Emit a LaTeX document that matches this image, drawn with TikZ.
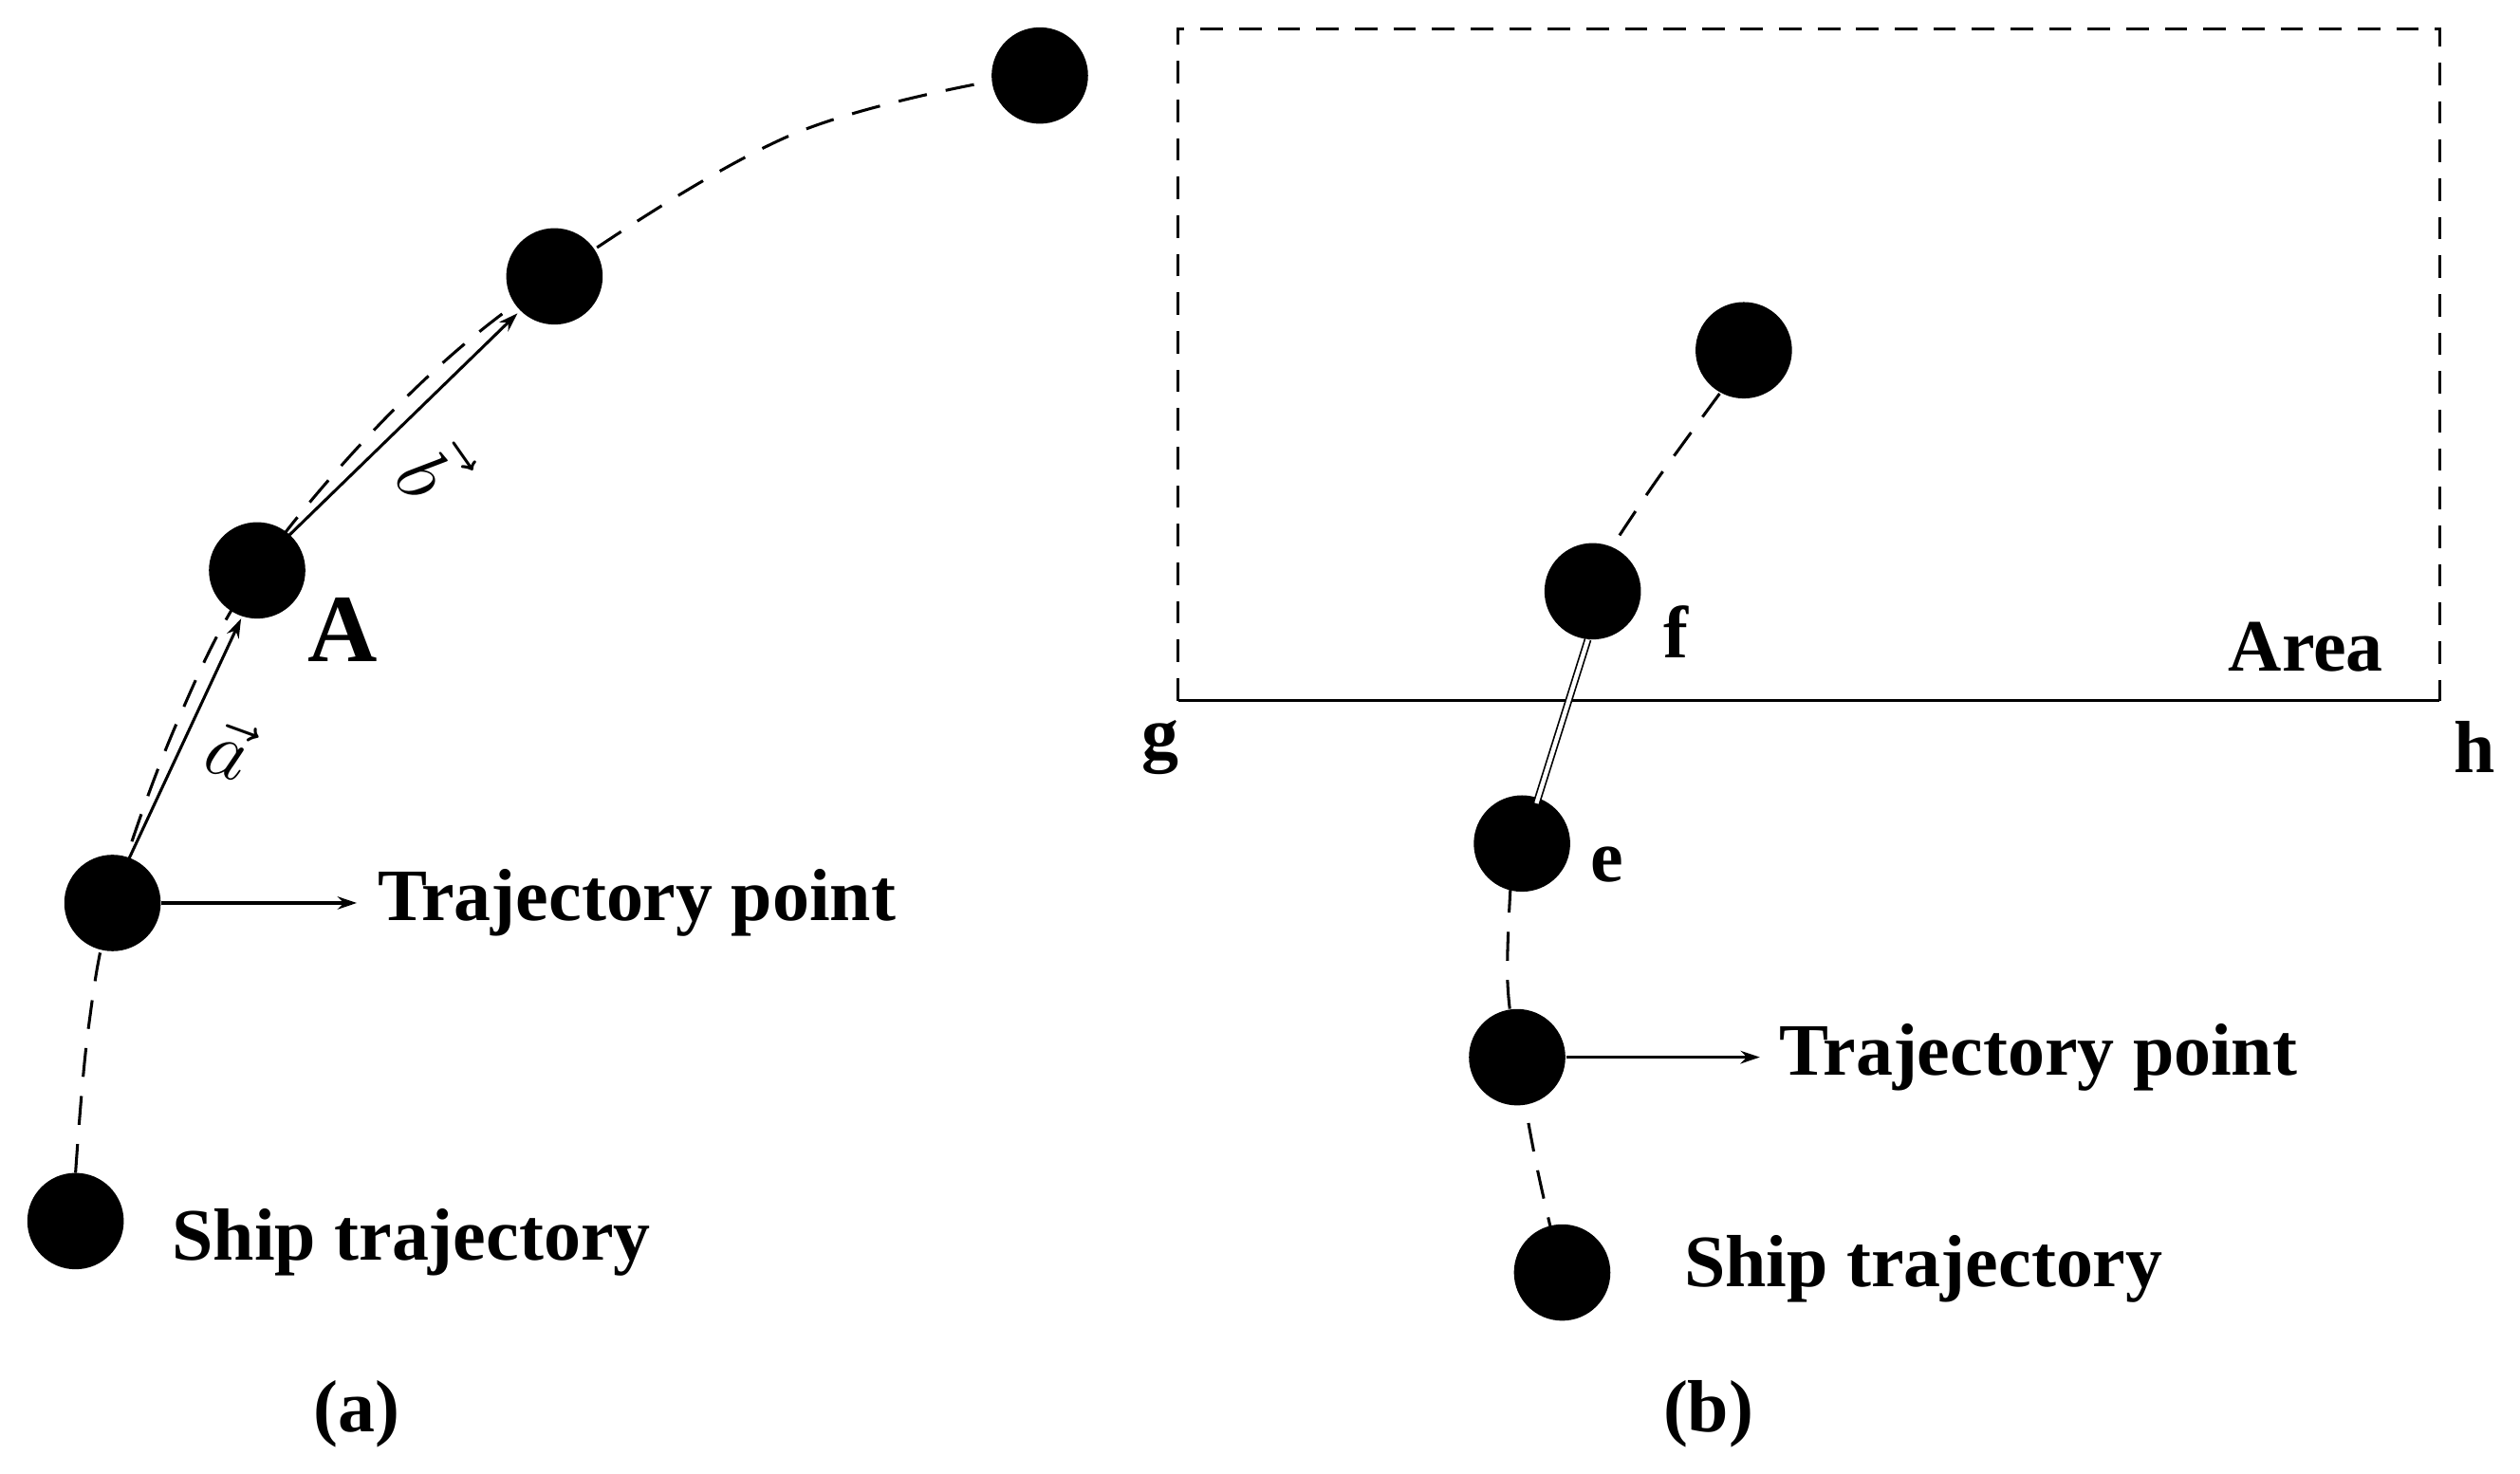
\documentclass[tikz,border=0pt]{standalone}
\usepackage{fontspec}
\setmainfont{Liberation Serif}
\usetikzlibrary{arrows.meta}
\begin{document}
\begin{tikzpicture}[x=0.5pt,y=-0.5pt,
  pt/.style={circle,fill=black,minimum size=30pt,inner sep=0pt},
  lbl/.style={font=\fontsize{23}{26}\selectfont\bfseries},
  traj/.style={dashed,dash pattern=on 9pt off 6pt,line width=0.9pt},
  arr/.style={-{Stealth[length=6pt,width=4pt]},line width=0.9pt}]
\useasboundingbox (0,0) rectangle (1568,917);
% left
\node[pt] (p1) at (47,760) {};
\node[pt] (p2) at (70,562) {};
\node[pt] (p3) at (160,355) {};
\node[pt] (p4) at (345,172) {};
\node[pt] (p5) at (647,47) {};
\draw[traj] plot[smooth,tension=0.6] coordinates {(47,730)(55,640)(70,562)(110,450)(160,355)(250,250)(345,172)(490,85)(620,50)};
\draw[arr] (80,535) -- (150,385);
\draw[arr] (178,335) -- (322,195);
\node[font=\fontsize{24}{26}\selectfont,rotate=-20] (la) at (143,466) {$\vec a$};
\node[font=\fontsize{24}{26}\selectfont,rotate=-55] (lb) at (270,292) {$\vec b$};
\node[font=\fontsize{30}{32}\selectfont\bfseries] (A) at (213,392) {A};
\node[lbl,anchor=west] (t1) at (228,562) {Trajectory point};
\draw[arr] (p2.east) -- (222,562);
\node[lbl,anchor=west] (s1) at (100,773) {Ship trajectory};
\node[lbl] (la1) at (222,880) {(a)};
% right
\draw[dashed,dash pattern=on 7pt off 5pt,line width=0.9pt] (733,436) -- (733,18) -- (1518,18) -- (1518,436);
\coordinate (g0) at (733,436); \coordinate (h0) at (1518,436);
\draw[line width=0.9pt] (g0) -- (h0);
\node[pt] (q1) at (1085,218) {};
\node[pt] (q2) at (991,368) {};
\node[pt] (q3) at (947,525) {};
\node[pt] (q4) at (944,658) {};
\node[pt] (q5) at (972,792) {};
\draw[traj] plot[smooth,tension=0.6] coordinates {(1070,245)(1030,300)(1000,345)};
\draw[traj] plot[smooth,tension=0.6] coordinates {(940,550)(938,610)(944,658)(955,720)(965,765)};
\draw[line width=0.5pt,double,double distance=1.3pt] (988,398) -- (956,500);
\node[lbl] at (722,465) {g};
\node[lbl] at (1540,465) {h};
\node[lbl,anchor=east] at (1490,403) {Area};
\node[lbl] at (1043,393) {f};
\node[lbl] at (1000,538) {e};
\node[lbl,anchor=west] (t2) at (1100,658) {Trajectory point};
\draw[arr] (q4.east) -- (1095,658);
\node[lbl,anchor=west] (s2) at (1041,790) {Ship trajectory};
\node[lbl] at (1063,880) {(b)};
\end{tikzpicture}
\end{document}
